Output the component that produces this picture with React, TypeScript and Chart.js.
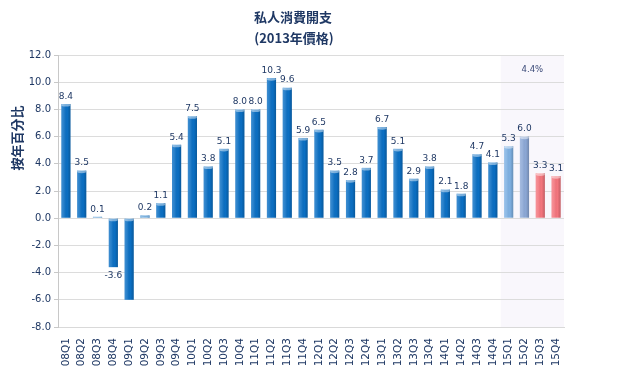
import React, { useEffect, useRef } from "react";
import { Chart, registerables } from "chart.js";

Chart.register(...registerables);

const categories = [
  "08Q1", "08Q2", "08Q3", "08Q4",
  "09Q1", "09Q2", "09Q3", "09Q4",
  "10Q1", "10Q2", "10Q3", "10Q4",
  "11Q1", "11Q2", "11Q3", "11Q4",
  "12Q1", "12Q2", "12Q3", "12Q4",
  "13Q1", "13Q2", "13Q3", "13Q4",
  "14Q1", "14Q2", "14Q3", "14Q4",
  "15Q1", "15Q2", "15Q3", "15Q4",
];

const growth = [
  8.4, 3.5, 0.1, -3.6,
  -6.0, 0.2, 1.1, 5.4,
  7.5, 3.8, 5.1, 8.0,
  8.0, 10.3, 9.6, 5.9,
  6.5, 3.5, 2.8, 3.7,
  6.7, 5.1, 2.9, 3.8,
  2.1, 1.8, 4.7, 4.1,
  5.3, 6.0, 3.3, 3.1,
];

const hiddenValueLabels = ["09Q1"];
const forecastCategories = ["15Q1", "15Q2", "15Q3", "15Q4"];
const forecastNote = "4.4%";
const titleLines = ["私人消費開支", "(2013年價格)"];
const yAxisTitle = "按年百分比";
const yMin = -8;
const yMax = 12;
const yStep = 2;

// styles
const NAVY = "#1f3864";
const DEFAULT_BAR = "#0b6fc3";
const BAR_STYLE: Record<string, string> = {
  "15Q1": "#7fb1e3",
  "15Q2": "#8ca8d6",
  "15Q3": "#f3757d",
  "15Q4": "#f3757d",
};
const SHADE = "#f9f7fc";
const LATIN = "'DejaVu Sans', Verdana, sans-serif";
const CJK = "'Noto Sans CJK TC', 'Noto Sans CJK SC', sans-serif";

const decorPlugin = {
  id: "decor",
  beforeDraw(chart: any) {
    const { ctx, chartArea, scales } = chart;
    const x = scales.x;
    const first = categories.indexOf(forecastCategories[0]);
    const left = (x.getPixelForValue(first - 1) + x.getPixelForValue(first)) / 2;
    ctx.save();
    ctx.fillStyle = SHADE;
    ctx.fillRect(left, chartArea.top, chartArea.right - left, chartArea.bottom - chartArea.top);
    ctx.restore();
  },
  afterDatasetsDraw(chart: any) {
    const { ctx, chartArea, scales } = chart;
    const meta = chart.getDatasetMeta(0);
    ctx.save();
    meta.data.forEach((el: any) => {
      const { x, y, base, width } = el.getProps(["x", "y", "base", "width"], true);
      const left = x - width / 2;
      const top = Math.min(y, base);
      const bottom = Math.max(y, base);
      const g = ctx.createLinearGradient(left, 0, left + width, 0);
      g.addColorStop(0, "rgba(255,255,255,0.22)");
      g.addColorStop(0.3, "rgba(255,255,255,0.10)");
      g.addColorStop(0.65, "rgba(0,0,0,0)");
      g.addColorStop(1, "rgba(0,0,0,0.20)");
      ctx.fillStyle = g;
      ctx.fillRect(left, top, width, bottom - top);
      ctx.fillStyle = "rgba(255,255,255,0.45)";
      ctx.beginPath();
      ctx.ellipse(x, top + 1, width / 2, 1.6, 0, 0, Math.PI * 2);
      ctx.fill();
    });
    // value labels
    ctx.fillStyle = NAVY;
    ctx.font = `9px ${LATIN}`;
    ctx.textAlign = "center";
    meta.data.forEach((el: any, i: number) => {
      if (hiddenValueLabels.includes(categories[i])) return;
      const v = growth[i];
      const { x, y } = el.getProps(["x", "y"], true);
      if (v >= 0) {
        ctx.textBaseline = "bottom";
        ctx.fillText(v.toFixed(1), x, y - 3);
      } else {
        ctx.textBaseline = "top";
        ctx.fillText(v.toFixed(1), x, y + 4);
      }
    });
    // forecast note
    const xs = scales.x;
    const first = categories.indexOf(forecastCategories[0]);
    const left = (xs.getPixelForValue(first - 1) + xs.getPixelForValue(first)) / 2;
    ctx.fillStyle = "#3b4a78";
    ctx.font = `8.5px ${LATIN}`;
    ctx.textBaseline = "middle";
    ctx.fillText(forecastNote, (left + chartArea.right) / 2, chartArea.top + 15);
    // titles
    ctx.fillStyle = NAVY;
    ctx.font = `bold 13px ${CJK}`;
    ctx.fillText(titleLines[0], 293, 17);
    ctx.fillText(titleLines[1], 294, 38);
    // y axis title
    ctx.translate(17, 138);
    ctx.rotate(-Math.PI / 2);
    ctx.font = `bold 13px ${CJK}`;
    ctx.fillText(yAxisTitle, 0, 0);
    ctx.restore();
  },
};

export default function App() {
  const ref = useRef<HTMLCanvasElement | null>(null);
  useEffect(() => {
    document.body.style.margin = "0";
    const canvas = ref.current!;
    const chart = new Chart(canvas, {
      type: "bar",
      data: {
        labels: categories,
        datasets: [
          {
            data: growth,
            backgroundColor: categories.map((c) => BAR_STYLE[c] || DEFAULT_BAR),
            barPercentage: 0.58,
            categoryPercentage: 1,
          },
        ],
      },
      options: {
        responsive: false,
        animation: false,
        devicePixelRatio: 1,
        layout: { padding: { top: 55, right: 61, left: 0, bottom: 0 } },
        plugins: {
          legend: { display: false },
          title: { display: false },
          tooltip: { enabled: false },
        },
        scales: {
          x: {
            grid: { display: false },
            border: { color: "#d9d9d9" },
            ticks: {
              autoSkip: false,
              maxRotation: 90,
              minRotation: 90,
              color: NAVY,
              font: { family: LATIN, size: 10.5 },
              padding: 3,
            },
            afterFit(scale: any) {
              scale.height = 45;
            },
          },
          y: {
            min: yMin,
            max: yMax,
            ticks: {
              stepSize: yStep,
              color: NAVY,
              font: { family: LATIN, size: 10 },
              padding: 3,
              callback: (v: any) => Number(v).toFixed(1),
            },
            grid: { color: "#dcdcdc", tickLength: 4, tickColor: "#c8c8c8" },
            border: { color: "#c8c8c8" },
            afterFit(scale: any) {
              scale.width = 58;
            },
          },
        },
      },
      plugins: [decorPlugin],
    });
    return () => chart.destroy();
  }, []);
  return (
    <div style={{ position: "absolute", left: 0, top: 0, width: 625, height: 372, background: "#fff" }}>
      <canvas ref={ref} width={625} height={372} />
    </div>
  );
}
